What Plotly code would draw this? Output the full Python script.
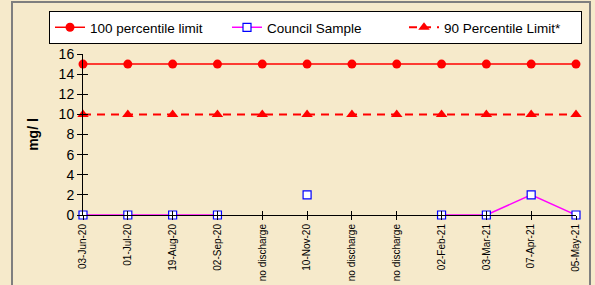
import plotly.graph_objects as go

categories = ["03-Jun-20", "01-Jul-20", "19-Aug-20", "02-Sep-20", "no discharge", "10-Nov-20",
              "no discharge", "no discharge", "02-Feb-21", "03-Mar-21", "07-Apr-21", "05-May-21"]
limit_100 = [15] * 12
limit_90 = [10] * 12
council = [0, 0, 0, 0, None, 2, None, None, 0, 0, 2, 0]
y_ticks = [0, 2, 4, 6, 8, 10, 12, 14, 16]

xpos = list(range(len(categories)))
FONT = "Liberation Sans, Arial, sans-serif"

fig = go.Figure()
fig.add_trace(go.Scatter(x=xpos, y=limit_100, name="100 percentile limit", mode="lines+markers",
                         line=dict(color="#FF0000", width=1.5),
                         marker=dict(symbol="circle", size=9, color="#FF0000"), cliponaxis=False))
fig.add_trace(go.Scatter(x=xpos, y=council, name="Council Sample", mode="lines+markers",
                         line=dict(color="#FF00FF", width=1.5), connectgaps=False,
                         marker=dict(symbol="square", size=8, color="white",
                                     line=dict(color="#0000FF", width=1.2)), cliponaxis=False))
fig.add_trace(go.Scatter(x=xpos, y=limit_90, name="90 Percentile Limit*", mode="lines+markers",
                         line=dict(color="#FF0000", width=2, dash="8px,6px"),
                         marker=dict(symbol="triangle-up", size=10, color="#FF0000"), cliponaxis=False))
fig.add_trace(go.Scatter(x=[None], y=[None], xaxis="x2", yaxis="y2", showlegend=False, hoverinfo="skip"))

L, R, T, B = 83, 19, 54, 70
pw, ph = 595 - L - R, 285 - T - B

def px_x(p):
    return (p - L) / pw

def px_y(p):
    return (285 - B - p) / ph

fig.update_layout(
    width=595, height=285,
    margin=dict(l=L, r=R, t=T, b=B, autoexpand=False),
    paper_bgcolor="#F6EACB", plot_bgcolor="rgba(0,0,0,0)",
    font=dict(family=FONT, color="black"),
    showlegend=True,
    legend=dict(orientation="h", x=px_x(49), y=px_y(11), xanchor="left", yanchor="top",
                bgcolor="white", bordercolor="black", borderwidth=1,
                font=dict(size=13.5, family=FONT), entrywidth=132, tracegroupgap=0),
    xaxis=dict(range=[0, 11], tickmode="array", tickvals=xpos, ticktext=categories,
               tickangle=-90, tickfont=dict(size=10), showgrid=False, zeroline=False,
               showline=True, linecolor="black", linewidth=1, ticks="outside", ticklen=4,
               tickcolor="black", automargin=False),
    xaxis2=dict(range=[0, 11], overlaying="x", tickmode="array", tickvals=xpos,
                showticklabels=False, showgrid=False, zeroline=False, ticks="inside",
                ticklen=4, tickcolor="black", showline=False, automargin=False),
    yaxis=dict(range=[0, 16], tickmode="array", tickvals=y_ticks, tickfont=dict(size=14),
               showgrid=False, zeroline=False, showline=True, linecolor="black", linewidth=1,
               ticks="outside", ticklen=5, tickcolor="black", automargin=False,
               title=dict(text="<b>mg/ l</b>", font=dict(size=14), standoff=16)),
    yaxis2=dict(range=[0, 16], overlaying="y", tickmode="array", tickvals=y_ticks,
                showticklabels=False, showgrid=False, zeroline=False, ticks="inside",
                ticklen=5, tickcolor="black", showline=False, automargin=False),
    shapes=[dict(type="rect", xref="paper", yref="paper", x0=px_x(12), x1=px_x(590),
                 y0=px_y(300), y1=px_y(2), line=dict(color="#7F7F7F", width=2),
                 fillcolor="rgba(0,0,0,0)", layer="below")],
)

fig.write_html("out.html", config={"displayModeBar": False},
               post_script="document.body.style.margin='0';document.body.style.background='#F6EACB';")
